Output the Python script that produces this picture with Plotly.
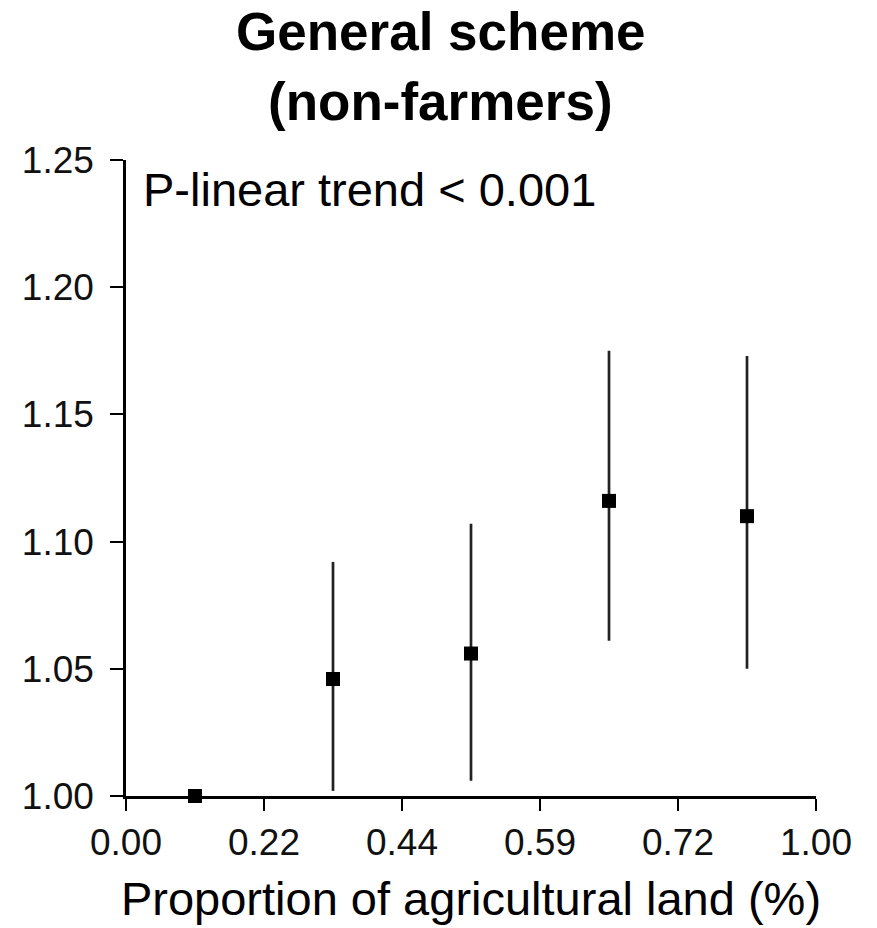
import plotly.graph_objects as go

categories = ["Q1", "Q2", "Q3", "Q4", "Q5"]
cat_pos = [0.5, 1.5, 2.5, 3.5, 4.5]
estimate = [1.000, 1.046, 1.056, 1.116, 1.110]
ci_upper = [1.000, 1.092, 1.107, 1.175, 1.173]
ci_lower = [1.000, 1.002, 1.006, 1.061, 1.050]
tick_positions = [0, 1, 2, 3, 4, 5]
tick_labels = ["0.00", "0.22", "0.44", "0.59", "0.72", "1.00"]
y_ticks = [1.00, 1.05, 1.10, 1.15, 1.20, 1.25]
title_lines = ["General scheme", "(non-farmers)"]

err_plus = [u - e for u, e in zip(ci_upper, estimate)]
err_minus = [e - l for e, l in zip(estimate, ci_lower)]

FONT = "Liberation Sans, Arial, sans-serif"

fig = go.Figure()
fig.add_trace(go.Scatter(
    x=cat_pos, y=estimate, mode="markers",
    marker=dict(symbol="square", size=14, color="black"),
    error_y=dict(type="data", symmetric=False, array=err_plus, arrayminus=err_minus,
                 width=0, thickness=2.7, color="#222222"),
    cliponaxis=False, showlegend=False, text=categories, hoverinfo="y+text",
))

annotations = [
    dict(text="<b>" + title_lines[0] + "</b>", xref="paper", yref="paper",
         x=0.4565, y=1.2022, xanchor="center", yanchor="middle", showarrow=False,
         font=dict(size=53, family=FONT, color="black")),
    dict(text="<b>" + title_lines[1] + "</b>", xref="paper", yref="paper",
         x=0.4565, y=1.092, xanchor="center", yanchor="middle", showarrow=False,
         font=dict(size=53, family=FONT, color="black")),
    dict(text="P-linear trend < 0.001", xref="paper", yref="paper",
         x=0.022, y=0.953, xanchor="left", yanchor="middle", showarrow=False,
         font=dict(size=47, family=FONT, color="black")),
]

fig.update_layout(
    width=877, height=928,
    margin=dict(l=126, r=61, t=160, b=130),
    paper_bgcolor="white", plot_bgcolor="white",
    font=dict(family=FONT, color="black"),
    xaxis=dict(range=[0, 5], tickmode="array", tickvals=tick_positions, ticktext=tick_labels,
               showline=True, linecolor="black", linewidth=2.5, ticks="outside", ticklen=12,
               tickwidth=2, tickcolor="black", showgrid=False, zeroline=False,
               tickfont=dict(size=37, color="#111111"),
               title=dict(text="Proportion of agricultural land (%)", font=dict(size=47), standoff=20)),
    yaxis=dict(range=[1.0, 1.25], tickmode="array", tickvals=y_ticks,
               ticktext=[f"{v:.2f}" for v in y_ticks],
               showline=True, linecolor="black", linewidth=2.5, ticks="outside", ticklen=13,
               tickwidth=2, tickcolor="black", showgrid=False, zeroline=False,
               ticklabelstandoff=9,
               tickfont=dict(size=37, color="#111111")),
    annotations=annotations,
)

fig.write_html("out.html")
